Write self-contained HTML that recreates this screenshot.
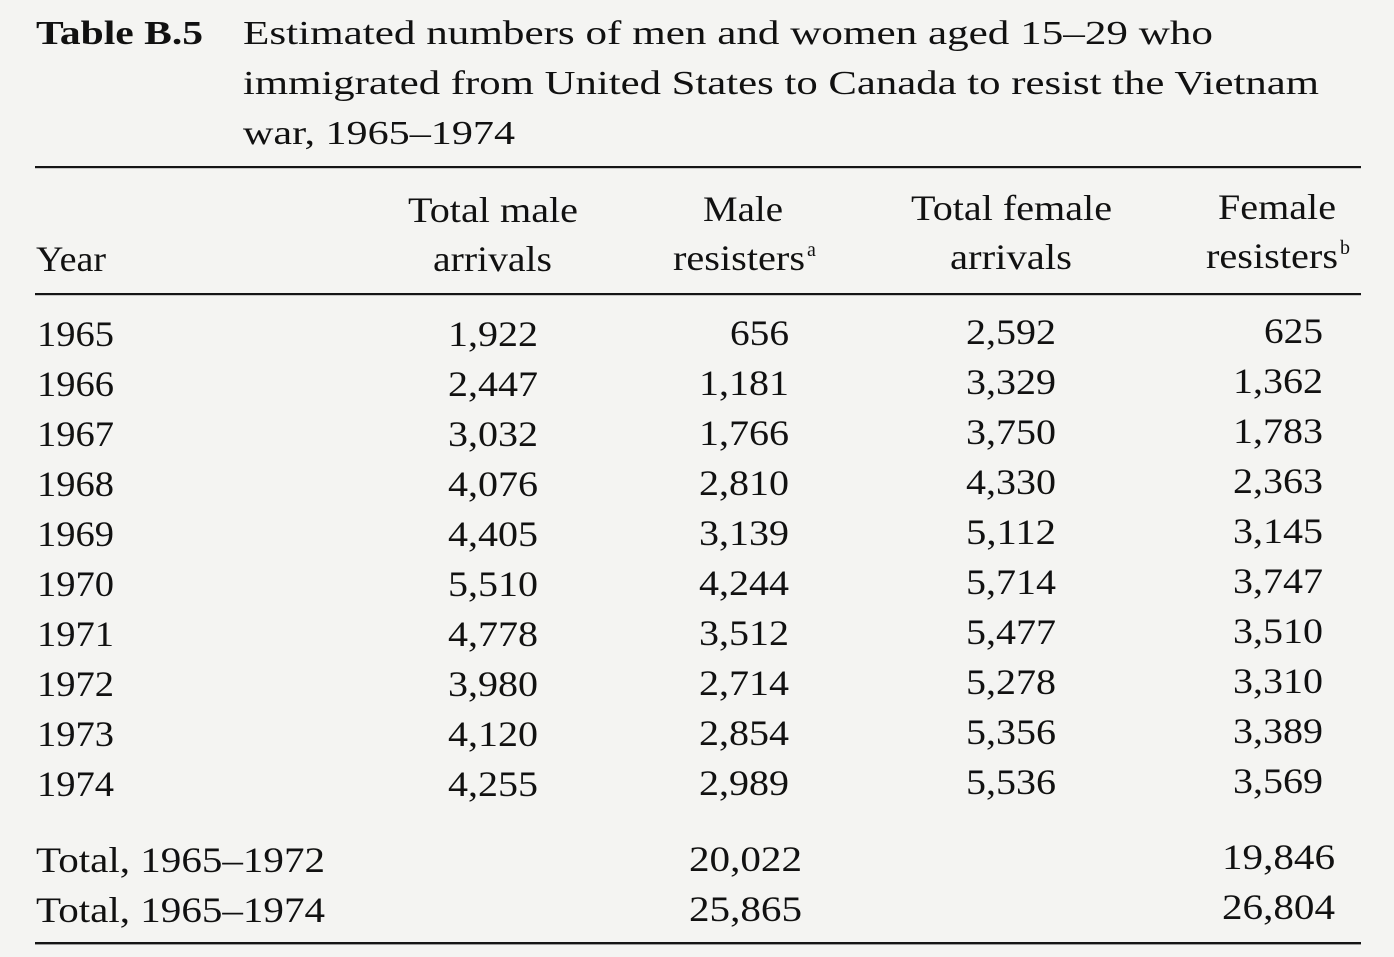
<!DOCTYPE html>
<html>
<head>
<meta charset="utf-8">
<style>
html,body{margin:0;padding:0;background:#f4f4f2;}
svg{display:block;}
text{font-family:"Liberation Serif",serif;fill:#111;}
.t{font-size:34px;}
.b{font-size:36px;}
.n{font-size:36px;}
.s{font-size:20px;}
</style>
</head>
<body>
<svg width="1394" height="957" viewBox="0 0 1394 957" xmlns="http://www.w3.org/2000/svg">
<rect x="0" y="0" width="1394" height="957" fill="#f4f4f2"/>
<!-- Title -->
<text x="36" y="44" class="t" font-weight="bold" textLength="167" lengthAdjust="spacingAndGlyphs">Table B.5</text>
<text x="243" y="44" class="t" textLength="970" lengthAdjust="spacingAndGlyphs">Estimated numbers of men and women aged 15–29 who</text>
<text x="243" y="94" class="t" textLength="1076" lengthAdjust="spacingAndGlyphs">immigrated from United States to Canada to resist the Vietnam</text>
<text x="243" y="144" class="t" textLength="272" lengthAdjust="spacingAndGlyphs">war, 1965–1974</text>
<!-- rules -->
<rect x="35" y="166" width="1326" height="2.2" fill="#151515"/>
<rect x="35" y="293" width="1326" height="2.2" fill="#151515"/>
<rect x="35" y="942" width="1326" height="2.4" fill="#151515"/>
<!-- Header -->
<text x="36" y="271" class="b" textLength="70" lengthAdjust="spacingAndGlyphs">Year</text>
<text x="408" y="222" class="b" textLength="170" lengthAdjust="spacingAndGlyphs">Total male</text>
<text x="433" y="271" class="b" textLength="119" lengthAdjust="spacingAndGlyphs">arrivals</text>
<text x="703" y="221" class="b" textLength="80" lengthAdjust="spacingAndGlyphs">Male</text>
<text x="673" y="270" class="b" textLength="132" lengthAdjust="spacingAndGlyphs">resisters</text>
<text x="807" y="256" class="s">a</text>
<text x="911" y="220" class="b" textLength="201" lengthAdjust="spacingAndGlyphs">Total female</text>
<text x="950" y="269" class="b" textLength="122" lengthAdjust="spacingAndGlyphs">arrivals</text>
<text x="1218" y="219" class="b" textLength="118" lengthAdjust="spacingAndGlyphs">Female</text>
<text x="1206" y="268" class="b" textLength="132" lengthAdjust="spacingAndGlyphs">resisters</text>
<text x="1340" y="254" class="s">b</text>
<!-- Rows -->
<text x="37" y="346" class="n" textLength="77" lengthAdjust="spacingAndGlyphs">1965</text>
<text x="448" y="346" class="n" textLength="90" lengthAdjust="spacingAndGlyphs">1,922</text>
<text x="730" y="345" class="n" textLength="59" lengthAdjust="spacingAndGlyphs">656</text>
<text x="966" y="344" class="n" textLength="90" lengthAdjust="spacingAndGlyphs">2,592</text>
<text x="1264" y="343" class="n" textLength="59" lengthAdjust="spacingAndGlyphs">625</text>

<text x="37" y="396" class="n" textLength="77" lengthAdjust="spacingAndGlyphs">1966</text>
<text x="448" y="396" class="n" textLength="90" lengthAdjust="spacingAndGlyphs">2,447</text>
<text x="699" y="395" class="n" textLength="90" lengthAdjust="spacingAndGlyphs">1,181</text>
<text x="966" y="394" class="n" textLength="90" lengthAdjust="spacingAndGlyphs">3,329</text>
<text x="1233" y="393" class="n" textLength="90" lengthAdjust="spacingAndGlyphs">1,362</text>

<text x="37" y="446" class="n" textLength="77" lengthAdjust="spacingAndGlyphs">1967</text>
<text x="448" y="446" class="n" textLength="90" lengthAdjust="spacingAndGlyphs">3,032</text>
<text x="699" y="445" class="n" textLength="90" lengthAdjust="spacingAndGlyphs">1,766</text>
<text x="966" y="444" class="n" textLength="90" lengthAdjust="spacingAndGlyphs">3,750</text>
<text x="1233" y="443" class="n" textLength="90" lengthAdjust="spacingAndGlyphs">1,783</text>

<text x="37" y="496" class="n" textLength="77" lengthAdjust="spacingAndGlyphs">1968</text>
<text x="448" y="496" class="n" textLength="90" lengthAdjust="spacingAndGlyphs">4,076</text>
<text x="699" y="495" class="n" textLength="90" lengthAdjust="spacingAndGlyphs">2,810</text>
<text x="966" y="494" class="n" textLength="90" lengthAdjust="spacingAndGlyphs">4,330</text>
<text x="1233" y="493" class="n" textLength="90" lengthAdjust="spacingAndGlyphs">2,363</text>

<text x="37" y="546" class="n" textLength="77" lengthAdjust="spacingAndGlyphs">1969</text>
<text x="448" y="546" class="n" textLength="90" lengthAdjust="spacingAndGlyphs">4,405</text>
<text x="699" y="545" class="n" textLength="90" lengthAdjust="spacingAndGlyphs">3,139</text>
<text x="966" y="544" class="n" textLength="90" lengthAdjust="spacingAndGlyphs">5,112</text>
<text x="1233" y="543" class="n" textLength="90" lengthAdjust="spacingAndGlyphs">3,145</text>

<text x="37" y="596" class="n" textLength="77" lengthAdjust="spacingAndGlyphs">1970</text>
<text x="448" y="596" class="n" textLength="90" lengthAdjust="spacingAndGlyphs">5,510</text>
<text x="699" y="595" class="n" textLength="90" lengthAdjust="spacingAndGlyphs">4,244</text>
<text x="966" y="594" class="n" textLength="90" lengthAdjust="spacingAndGlyphs">5,714</text>
<text x="1233" y="593" class="n" textLength="90" lengthAdjust="spacingAndGlyphs">3,747</text>

<text x="37" y="646" class="n" textLength="77" lengthAdjust="spacingAndGlyphs">1971</text>
<text x="448" y="646" class="n" textLength="90" lengthAdjust="spacingAndGlyphs">4,778</text>
<text x="699" y="645" class="n" textLength="90" lengthAdjust="spacingAndGlyphs">3,512</text>
<text x="966" y="644" class="n" textLength="90" lengthAdjust="spacingAndGlyphs">5,477</text>
<text x="1233" y="643" class="n" textLength="90" lengthAdjust="spacingAndGlyphs">3,510</text>

<text x="37" y="696" class="n" textLength="77" lengthAdjust="spacingAndGlyphs">1972</text>
<text x="448" y="696" class="n" textLength="90" lengthAdjust="spacingAndGlyphs">3,980</text>
<text x="699" y="695" class="n" textLength="90" lengthAdjust="spacingAndGlyphs">2,714</text>
<text x="966" y="694" class="n" textLength="90" lengthAdjust="spacingAndGlyphs">5,278</text>
<text x="1233" y="693" class="n" textLength="90" lengthAdjust="spacingAndGlyphs">3,310</text>

<text x="37" y="746" class="n" textLength="77" lengthAdjust="spacingAndGlyphs">1973</text>
<text x="448" y="746" class="n" textLength="90" lengthAdjust="spacingAndGlyphs">4,120</text>
<text x="699" y="745" class="n" textLength="90" lengthAdjust="spacingAndGlyphs">2,854</text>
<text x="966" y="744" class="n" textLength="90" lengthAdjust="spacingAndGlyphs">5,356</text>
<text x="1233" y="743" class="n" textLength="90" lengthAdjust="spacingAndGlyphs">3,389</text>

<text x="37" y="796" class="n" textLength="77" lengthAdjust="spacingAndGlyphs">1974</text>
<text x="448" y="796" class="n" textLength="90" lengthAdjust="spacingAndGlyphs">4,255</text>
<text x="699" y="795" class="n" textLength="90" lengthAdjust="spacingAndGlyphs">2,989</text>
<text x="966" y="794" class="n" textLength="90" lengthAdjust="spacingAndGlyphs">5,536</text>
<text x="1233" y="793" class="n" textLength="90" lengthAdjust="spacingAndGlyphs">3,569</text>

<!-- Totals -->
<text x="36" y="872" class="b" textLength="289" lengthAdjust="spacingAndGlyphs">Total, 1965–1972</text>
<text x="689" y="871" class="n" textLength="113" lengthAdjust="spacingAndGlyphs">20,022</text>
<text x="1222" y="869" class="n" textLength="113" lengthAdjust="spacingAndGlyphs">19,846</text>
<text x="36" y="922" class="b" textLength="289" lengthAdjust="spacingAndGlyphs">Total, 1965–1974</text>
<text x="689" y="921" class="n" textLength="113" lengthAdjust="spacingAndGlyphs">25,865</text>
<text x="1222" y="919" class="n" textLength="113" lengthAdjust="spacingAndGlyphs">26,804</text>
</svg>
</body>
</html>
